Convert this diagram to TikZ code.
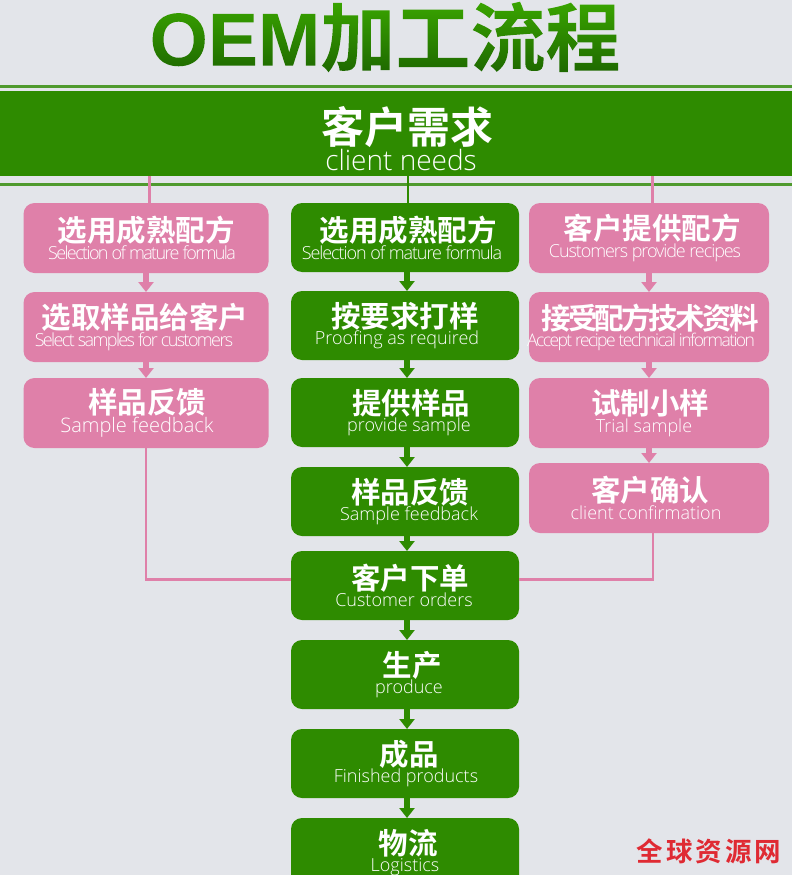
\documentclass[tikz,border=0pt]{standalone}
\usepackage{fontspec}
\usetikzlibrary{positioning, arrows.meta}
\setmainfont{Liberation Sans}
\newfontfamily\cnfont{Noto Sans CJK SC}[BoldFont={* Bold}]
\newfontfamily\cntight{Noto Sans CJK SC}[BoldFont={* Bold},LetterSpace=-9]
\newfontfamily\enfont{Open Sans Light}
\newfontfamily\entight{Open Sans Light}[LetterSpace=-6]
\newfontfamily\entighter{Open Sans Light}[LetterSpace=-9]
\definecolor{bgrey}{HTML}{E3E5EA}
\definecolor{dgreen}{HTML}{2E8B00}
\definecolor{lgreen}{HTML}{4F9A2E}
\definecolor{mpink}{HTML}{DF80A9}
\definecolor{topgreen}{HTML}{3BA800}
\definecolor{botgreen}{HTML}{1C6400}
\definecolor{wred}{HTML}{DF2A33}
% chinese line and english line, each with its own shift
\newcommand{\twolines}[5]{\hspace*{#1pt}\hspace*{#1pt}{\cnfont\bfseries\fontsize{29.5}{22}\selectfont #2}\\\hspace*{#3pt}\hspace*{#3pt}{\enfont\fontsize{#4}{23}\selectfont #5}}
\tikzset{
	flowbox/.style={rounded corners=11pt,outer sep=0pt,inner sep=0pt,align=center,text=white},
	greenbox/.style={flowbox,fill=dgreen,minimum width=228pt,minimum height=69pt},
	pinkbox/.style={flowbox,fill=mpink,minimum height=70pt},
	greenarrow/.style={-{Triangle[width=15pt,length=10pt]},line width=6pt,dgreen},
	pinkarrow/.style={-{Triangle[width=15pt,length=10pt]},line width=6pt,mpink},
	pinkline/.style={line width=2.5pt,mpink},
	greenline/.style={line width=3pt,lgreen}
}
\begin{document}
\begin{tikzpicture}[x=1pt,y=-1pt,node distance=20pt]
	\useasboundingbox (0,0) rectangle (792,875);
	\clip (0,0) rectangle (792,875);
	\fill[bgrey] (0,0) rectangle (792,875);
	% heading
	\node[inner sep=0pt] (title) at (385,37) {%
		\special{pdf:code 7 Tr}\fontsize{75}{75}\selectfont\bfseries OEM{\cnfont 加工流程}\special{pdf:code 0 Tr}%
		\tikz[overlay,x=1pt,y=1pt]{\shade[top color=topgreen,bottom color=botgreen] (-480,-12) rectangle (0,68);}};
	\node[fill=dgreen,minimum width=792pt,minimum height=85pt,inner sep=0pt,outer sep=0pt] (needs) at (396,133.5) {};
	\node[inner sep=0pt,align=center,text=white] (needstext) at (407,138.5)
		{{\cnfont\bfseries\fontsize{43}{30}\selectfont 客户需求}\\\hspace*{-12pt}{\enfont\fontsize{28}{33}\selectfont client needs}};
	\coordinate (rulea) at (0,86);
	\coordinate (ruleb) at (792,86);
	\coordinate (rulec) at (0,184);
	\coordinate (ruled) at (792,184);
	\draw[greenline] (rulea) -- (ruleb);
	\draw[greenline] (rulec) -- (ruled);
	% middle column
	\node[greenbox] (mid1) at (405,237.5) {\twolines{3}{选用成熟配方}{-3}{18}{\entight Selection of mature formula}};
	\node[greenbox,below=19pt of mid1] (mid2) {\twolines{0}{按要求打样}{-8}{18}{Proofing as required}};
	\node[greenbox,below=18pt of mid2] (mid3) {\twolines{6}{提供样品}{4}{18}{provide sample}};
	\node[greenbox,below=of mid3] (mid4) {\twolines{5}{样品反馈}{4}{18}{Sample feedback}};
	\node[greenbox,below=15pt of mid4] (mid5) {\twolines{5}{客户下单}{-1}{18}{Customer orders}};
	\node[greenbox,below=of mid5] (mid6) {\twolines{7}{生产}{4}{18}{produce}};
	\node[greenbox,below=of mid6] (mid7) {\twolines{4}{成品}{1}{18}{Finished products}};
	\node[greenbox,below=of mid7] (mid8) {\twolines{3}{物流}{0}{18}{\raisebox{3pt}{Logistics}}};
	% left column
	\node[pinkbox,minimum width=245pt] (lef1) at (146,238) {\twolines{0}{选用成熟配方}{-4}{18}{\entighter Selection of mature formula}};
	\node[pinkbox,minimum width=245pt,below=19pt of lef1] (lef2) {\twolines{-1}{选取样品给客户}{-12}{18}{\entighter Select samples for customers}};
	\node[pinkbox,minimum width=245pt,below=16pt of lef2] (lef3) {\twolines{1}{样品反馈}{-9}{20}{Sample feedback}};
	% right column
	\node[pinkbox,minimum width=240pt] (rig1) at (649,238) {\twolines{3}{客户提供配方}{-4}{18}{\entight Customers provide recipes}};
	\node[pinkbox,minimum width=240pt,below=19pt of rig1] (rig2) {\twolines{1}{\cntight 接受配方技术资料}{-8}{17.5}{\entighter Accept recipe technical information}};
	\node[pinkbox,minimum width=240pt,below=16pt of rig2] (rig3) {\twolines{1}{试制小样}{-5}{18}{Trial sample}};
	\node[pinkbox,minimum width=240pt,below=15pt of rig3] (rig4) {\twolines{1}{客户确认}{-3}{18}{client confirmation}};
	% connectors
	\draw[pinkline] ([xshift=-246.5pt]needs.south) -- ([xshift=3.5pt]lef1.north);
	\draw[line width=2pt,dgreen] ([xshift=12pt]needs.south) -- ([xshift=3pt]mid1.north);
	\draw[pinkline] ([xshift=256.5pt]needs.south) -- ([xshift=3.5pt]rig1.north);
	\draw[greenarrow] ([xshift=2pt]mid1.south) -- ([xshift=2pt]mid2.north);
	\draw[greenarrow] ([xshift=2pt]mid2.south) -- ([xshift=2pt]mid3.north);
	\draw[greenarrow] ([xshift=2pt]mid3.south) -- ([xshift=2pt]mid4.north);
	\draw[greenarrow] ([xshift=2pt]mid4.south) -- ([xshift=2pt]mid5.north);
	\draw[greenarrow] ([xshift=2pt]mid5.south) -- ([xshift=2pt]mid6.north);
	\draw[greenarrow] ([xshift=2pt]mid6.south) -- ([xshift=2pt]mid7.north);
	\draw[greenarrow] ([xshift=2pt]mid7.south) -- ([xshift=2pt]mid8.north);
	\draw[pinkarrow] (lef1) -- (lef2);
	\draw[pinkarrow] (lef2) -- (lef3);
	\draw[pinkarrow] (rig1) -- (rig2);
	\draw[pinkarrow] (rig2) -- (rig3);
	\draw[pinkarrow] (rig3) -- (rig4);
	\draw[pinkline] (lef3.south) |- ([yshift=6pt]mid5.west);
	\draw[pinkline] ([xshift=4pt]rig4.south) |- ([yshift=6pt]mid5.east);
	% corner mark
	\node[text=wred,inner sep=0pt] (mark) at (709,851) {\cnfont\bfseries\fontsize{26.5}{26}\selectfont 全\kern3pt 球\kern3pt 资\kern3pt 源\kern3pt 网};
\end{tikzpicture}
\end{document}
